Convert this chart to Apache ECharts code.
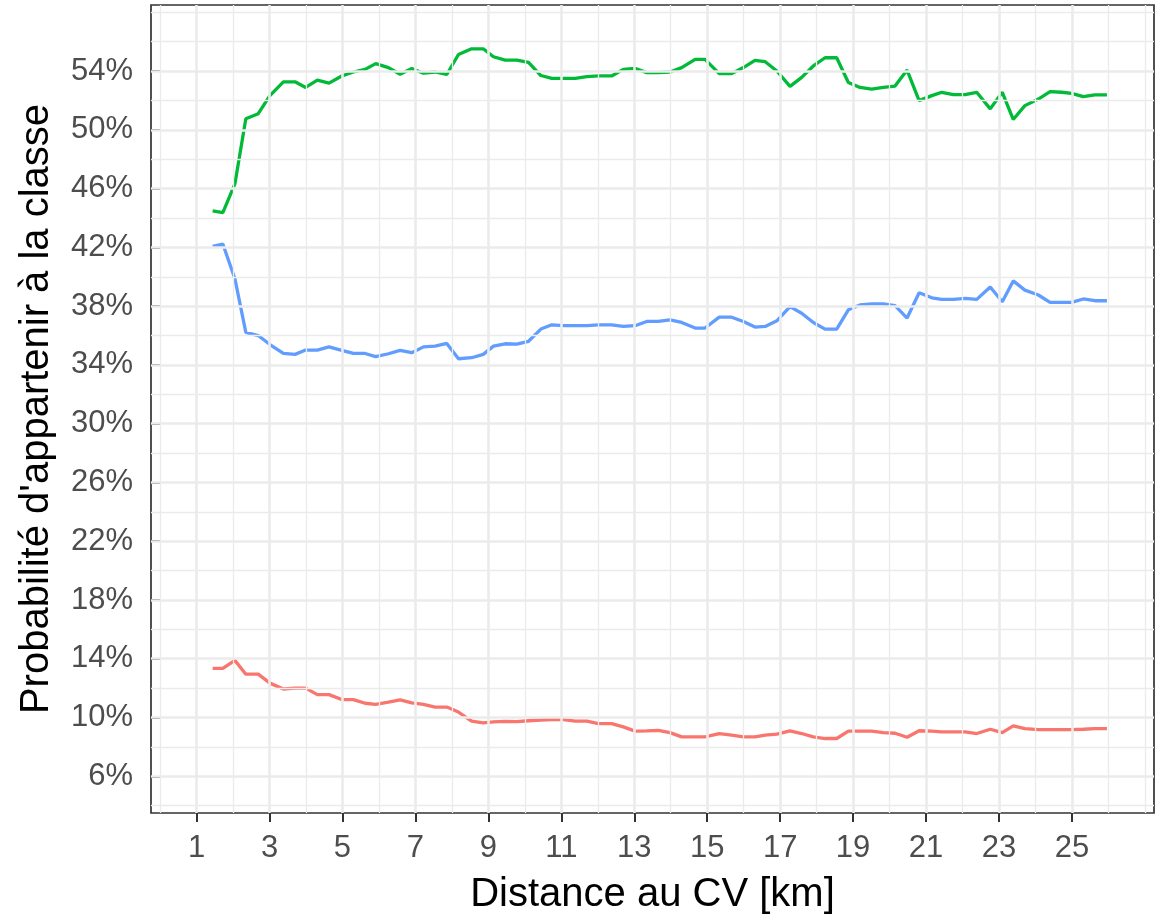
<!DOCTYPE html>
<html>
<head>
<meta charset="utf-8">
<script src="https://cdn.jsdelivr.net/npm/echarts@6/dist/echarts.min.js"></script>
<style>
  html, body { margin: 0; padding: 0; background: #fff; }
  #chart { width: 1164px; height: 920px; }
</style>
</head>
<body>
<div id="chart"></div>
<script>
// distance au CV (km)
const xs = [1.44, 1.72, 2.05, 2.35, 2.69, 3.01, 3.38, 3.70, 3.99, 4.31, 4.63, 4.98, 5.30, 5.62, 5.91, 6.26,
  6.58, 6.90, 7.22, 7.54, 7.86, 8.18, 8.54, 8.86, 9.14, 9.46, 9.78, 10.10, 10.44, 10.74, 11.06, 11.38,
  11.70, 12.02, 12.38, 12.70, 13.02, 13.34, 13.66, 13.98, 14.30, 14.67, 14.94, 15.33, 15.67, 15.99, 16.31,
  16.59, 16.91, 17.27, 17.59, 17.91, 18.23, 18.55, 18.87, 19.19, 19.51, 19.83, 20.15, 20.48, 20.81, 21.16,
  21.43, 21.75, 22.07, 22.39, 22.76, 23.09, 23.39, 23.71, 24.08, 24.40, 24.72, 24.99, 25.31, 25.63, 25.96]

// probabilités (%) par classe
const rouge = [13.35, 13.35, 13.89, 12.95, 12.95, 12.34, 11.94, 12.0, 12.0, 11.56, 11.56, 11.22, 11.22, 10.97,
  10.89, 11.04, 11.2, 10.99, 10.89, 10.71, 10.71, 10.37, 9.76, 9.63, 9.7, 9.74, 9.72, 9.78, 9.83, 9.85,
  9.85, 9.76, 9.76, 9.58, 9.58, 9.36, 9.07, 9.09, 9.13, 8.97, 8.68, 8.68, 8.68, 8.91, 8.8, 8.68, 8.68,
  8.8, 8.87, 9.09, 8.91, 8.68, 8.57, 8.57, 9.07, 9.07, 9.07, 8.97, 8.93, 8.66, 9.1, 9.07, 9.02, 9.02,
  9.02, 8.91, 9.2, 8.97, 9.43, 9.24, 9.18, 9.18, 9.18, 9.18, 9.2, 9.24, 9.24]
const vert = [44.48, 44.36, 46.32, 50.76, 51.1, 52.33, 53.27, 53.27, 52.89, 53.38, 53.18, 53.67, 53.94, 54.12,
  54.51, 54.24, 53.79, 54.17, 53.86, 53.94, 53.77, 55.13, 55.52, 55.52, 54.98, 54.75, 54.75, 54.6, 53.7,
  53.5, 53.5, 53.5, 53.63, 53.67, 53.67, 54.12, 54.19, 53.9, 53.9, 53.94, 54.24, 54.8, 54.8, 53.83, 53.83,
  54.24, 54.73, 54.64, 54.01, 52.96, 53.57, 54.35, 54.91, 54.91, 53.23, 52.89, 52.78, 52.89, 52.98, 54.07,
  51.99, 52.33, 52.56, 52.4, 52.4, 52.56, 51.43, 52.56, 50.71, 51.65, 52.1, 52.6, 52.56, 52.49, 52.26,
  52.38, 52.38]
const bleu = [42.07, 42.23, 39.87, 36.22, 36.0, 35.39, 34.78, 34.72, 35.01, 35.01, 35.23, 34.99, 34.78, 34.78,
  34.56, 34.76, 34.99, 34.83, 35.23, 35.28, 35.46, 34.42, 34.49, 34.72, 35.28, 35.44, 35.42, 35.61, 36.44,
  36.73, 36.67, 36.67, 36.67, 36.73, 36.73, 36.62, 36.67, 36.96, 36.96, 37.07, 36.89, 36.51, 36.51, 37.25,
  37.25, 36.96, 36.58, 36.62, 37.0, 37.97, 37.52, 36.89, 36.44, 36.44, 37.75, 38.08, 38.15, 38.15, 38.03,
  37.19, 38.91, 38.57, 38.46, 38.46, 38.53, 38.46, 39.31, 38.3, 39.72, 39.09, 38.76, 38.26, 38.26, 38.26,
  38.49, 38.37, 38.37]

// graduations
const xTicks = [1, 3, 5, 7, 9, 11, 13, 15, 17, 19, 21, 23, 25]
const xMinor = [0, 2, 4, 6, 8, 10, 12, 14, 16, 18, 20, 22, 24, 26, 27]
const yTicks = [6, 10, 14, 18, 22, 26, 30, 34, 38, 42, 46, 50, 54]
const yMinor = [4, 8, 12, 16, 20, 24, 28, 32, 36, 40, 44, 48, 52, 56, 58]

const font = "'Liberation Sans', Arial, sans-serif"
const pairs = ys => xs.map((x, i) => [x, ys[i]])

const gridLines = (vals, key, width) => vals.map(v => ({
  [key]: v,
  lineStyle: { color: '#EBEBEB', width: width, type: 'solid' }
}))

const ligne = (name, ys, color) => ({
  name: name,
  type: 'line',
  data: pairs(ys),
  showSymbol: false,
  z: 3,
  lineStyle: { color: color, width: 3.3 },
  itemStyle: { color: color },
})

let option = {
  animation: false,
  backgroundColor: '#fff',
  grid: {
    left: 151, right: 10, top: 5, bottom: 98,
    show: true, borderColor: '#333333', borderWidth: 1.7,
    backgroundColor: 'transparent',
  },
  xAxis: {
    type: 'value',
    min: -0.25, max: 27.25,
    name: 'Distance au CV [km]',
    nameLocation: 'middle',
    nameGap: 62,
    nameTextStyle: { color: '#000', fontSize: 40, fontFamily: font },
    axisLine: { show: false },
    splitLine: { show: false },
    axisTick: { show: true, customValues: xTicks, length: 9, lineStyle: { color: '#333333', width: 2 } },
    axisLabel: { customValues: xTicks, color: '#4D4D4D', fontSize: 31, fontFamily: font, margin: 20 },
  },
  yAxis: {
    type: 'value',
    min: 3.5, max: 58.5,
    name: "Probabilité d'appartenir à la classe",
    nameLocation: 'middle',
    nameGap: 94,
    nameTextStyle: { color: '#000', fontSize: 40, fontFamily: font },
    axisLine: { show: false },
    splitLine: { show: false },
    axisTick: { show: true, customValues: yTicks, length: 9, lineStyle: { color: '#333333', width: 2 } },
    axisLabel: { customValues: yTicks, formatter: '{value}%', color: '#4D4D4D', fontSize: 31, fontFamily: font, margin: 18 },
  },
  series: [
    {
      // quadrillage
      type: 'line',
      data: [],
      z: 1,
      silent: true,
      markLine: {
        silent: true,
        symbol: 'none',
        label: { show: false },
        animation: false,
        data: [
          ...gridLines(xMinor, 'xAxis', 1.3),
          ...gridLines(yMinor, 'yAxis', 1.3),
          ...gridLines(xTicks, 'xAxis', 2.6),
          ...gridLines(yTicks, 'yAxis', 2.6),
        ],
      },
    },
    ligne('1', rouge, '#F8766D'),
    ligne('2', vert, '#00BA38'),
    ligne('3', bleu, '#619CFF'),
  ],
}

let myChart = echarts.init(document.getElementById('chart'))
myChart.setOption(option)
</script>
</body>
</html>
